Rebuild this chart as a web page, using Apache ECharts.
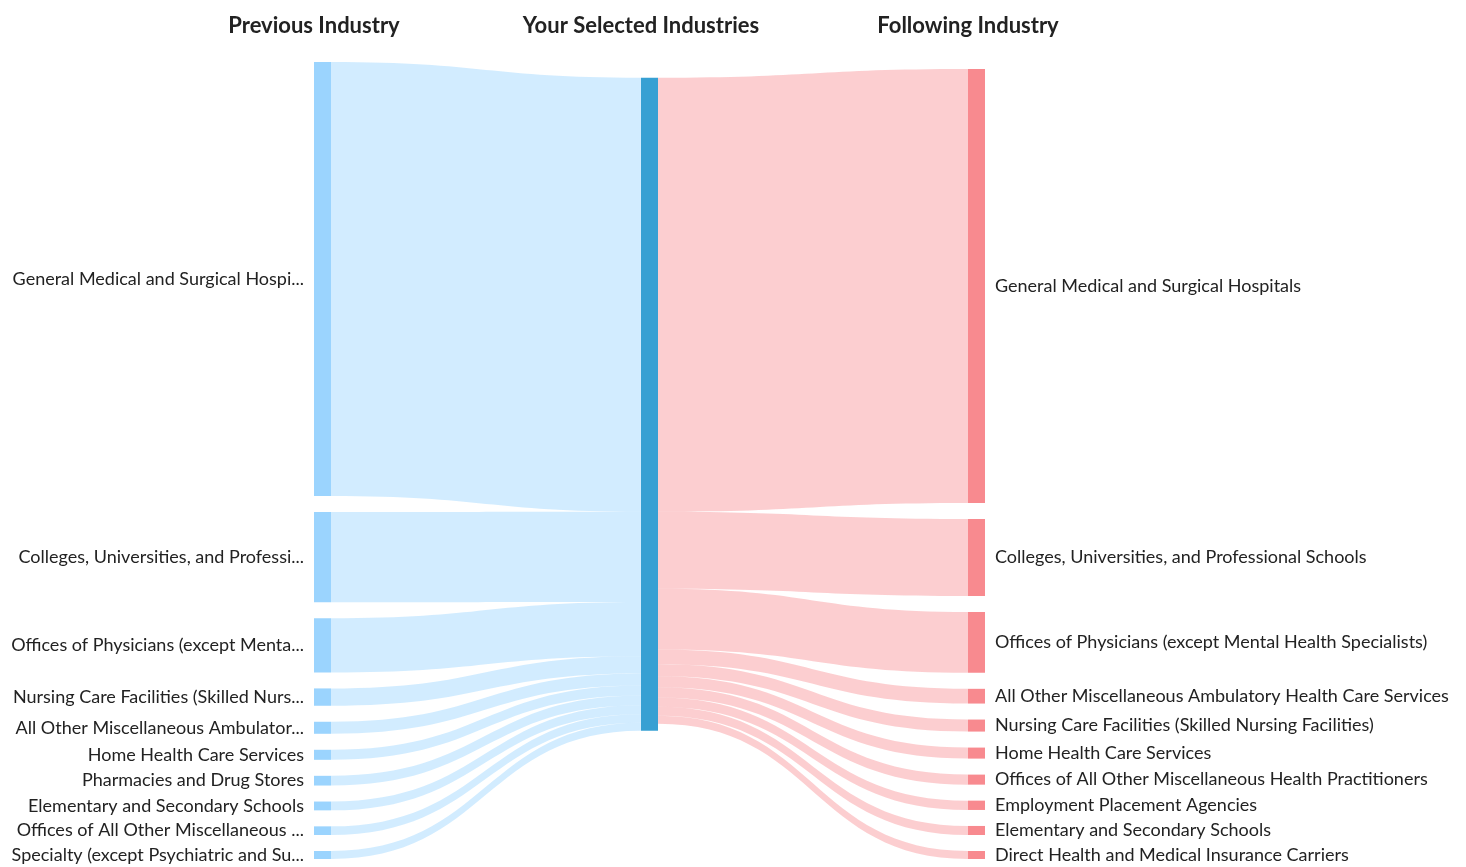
<!DOCTYPE html>
<html>
<head>
<meta charset="utf-8">
<script src="https://cdn.jsdelivr.net/npm/echarts@6/dist/echarts.min.js"></script>
<style>html,body{margin:0;padding:0;background:#fff;}#chart{width:1466px;height:867px;}</style>
</head>
<body>
<div id="chart"></div>
<script>
const columnTitles = ['Previous Industry', 'Your Selected Industries', 'Following Industry'];
const selectedIndustry = 'Your Selected Industries';
const previousIndustries = [
  'General Medical and Surgical Hospitals',
  'Colleges, Universities, and Professional Schools',
  'Offices of Physicians (except Mental Health Specialists)',
  'Nursing Care Facilities (Skilled Nursing Facilities)',
  'All Other Miscellaneous Ambulatory Health Care Services',
  'Home Health Care Services',
  'Pharmacies and Drug Stores',
  'Elementary and Secondary Schools',
  'Offices of All Other Miscellaneous Health Practitioners',
  'Specialty (except Psychiatric and Substance Abuse) Hospitals'
];
const previousValues = [433, 90, 54, 17.3, 12, 10, 9.7, 8.8, 8.6, 8];
const followingIndustries = [
  'General Medical and Surgical Hospitals',
  'Colleges, Universities, and Professional Schools',
  'Offices of Physicians (except Mental Health Specialists)',
  'All Other Miscellaneous Ambulatory Health Care Services',
  'Nursing Care Facilities (Skilled Nursing Facilities)',
  'Home Health Care Services',
  'Offices of All Other Miscellaneous Health Practitioners',
  'Employment Placement Agencies',
  'Elementary and Secondary Schools',
  'Direct Health and Medical Insurance Carriers'
];
const followingValues = [433, 76.7, 60.7, 14.7, 12, 11, 10, 9.3, 9, 8];

const leftColor = '#9BD4FE';
const midColor = '#37A0D3';
const rightColor = '#F88A8F';

const nodes = [];
const links = [];
previousIndustries.forEach(function (n) {
  nodes.push({ name: 'P|' + n, depth: 0, itemStyle: { color: leftColor },
    label: { position: 'left', width: 296, overflow: 'truncate', align: 'right' } });
});
nodes.push({ name: 'M|' + selectedIndustry, depth: 1, itemStyle: { color: midColor }, label: { show: false } });
followingIndustries.forEach(function (n) {
  nodes.push({ name: 'F|' + n, depth: 2, itemStyle: { color: rightColor }, label: { position: 'right' } });
});
previousIndustries.forEach(function (n, i) {
  links.push({ source: 'P|' + n, target: 'M|' + selectedIndustry, value: previousValues[i],
    lineStyle: { color: leftColor, opacity: 0.45 } });
});
followingIndustries.forEach(function (n, i) {
  links.push({ source: 'M|' + selectedIndustry, target: 'F|' + n, value: followingValues[i],
    lineStyle: { color: rightColor, opacity: 0.42 } });
});

const chart = echarts.init(document.getElementById('chart'), null, { renderer: 'canvas' });
const titleXs = [314, 641, 968];
chart.setOption({
  animation: false,
  backgroundColor: '#fff',
  graphic: columnTitles.map(function (t, i) {
    return { type: 'text', x: titleXs[i], y: 26,
      style: { text: t, fontFamily: 'Lato', fontWeight: 'bold', fontSize: 22, fill: '#222',
        align: 'center', verticalAlign: 'middle' } };
  }),
  series: [{
    type: 'sankey',
    left: 314, right: 481, top: 62, bottom: 8,
    nodeWidth: 17,
    nodeGap: 16,
    nodeAlign: 'justify',
    draggable: false,
    emphasis: { disabled: true },
    label: { fontFamily: 'Lato', fontSize: 18, color: '#222', distance: 10,
      formatter: function (p) { return p.name.slice(2); } },
    itemStyle: { borderWidth: 0 },
    lineStyle: { curveness: 0.5 },
    data: nodes,
    links: links
  }]
});
</script>
</body>
</html>
